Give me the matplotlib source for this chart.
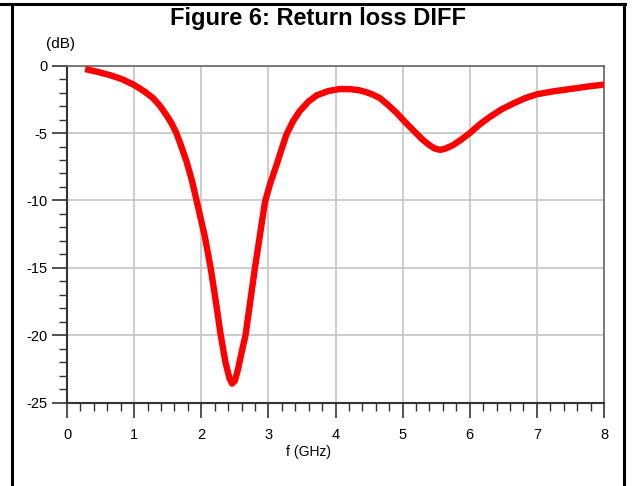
import matplotlib
matplotlib.use("Agg")
import matplotlib.pyplot as plt
from matplotlib.lines import Line2D
import numpy as np

freq_ghz = [0.27, 0.45, 0.64, 0.82, 1.0, 1.15, 1.28, 1.38, 1.48, 1.56, 1.63, 1.70, 1.78,
            1.86, 1.93, 2.05, 2.14, 2.22, 2.29, 2.36, 2.42, 2.46, 2.50, 2.55, 2.60, 2.66,
            2.73, 2.80, 2.88, 2.95, 3.03, 3.12, 3.20, 3.27, 3.37, 3.47, 3.60, 3.72, 3.88,
            4.06, 4.22, 4.35, 4.46, 4.56, 4.66, 4.78, 4.91, 5.05, 5.2, 5.3, 5.4, 5.48, 5.56,
            5.64, 5.75, 5.87, 6.0, 6.15, 6.3, 6.47, 6.65, 6.82, 7.0, 7.25, 7.5, 7.75, 8.0]
return_loss_db = [-0.25, -0.45, -0.7, -1.0, -1.43, -1.9, -2.4, -2.95, -3.65, -4.3, -5.0,
                  -5.95, -7.1, -8.5, -10.0, -12.6, -15.0, -17.6, -20.0, -22.0, -23.2, -23.6,
                  -23.4, -22.5, -21.3, -20.0, -17.5, -15.0, -12.4, -10.1, -8.7, -7.4, -6.15,
                  -5.1, -4.1, -3.35, -2.65, -2.2, -1.9, -1.73, -1.74, -1.82, -1.97, -2.15,
                  -2.4, -2.9, -3.5, -4.25, -5.0, -5.5, -5.9, -6.15, -6.25, -6.15, -5.9, -5.5,
                  -5.0, -4.35, -3.8, -3.25, -2.8, -2.42, -2.12, -1.9, -1.73, -1.55, -1.4]
x_ticks = [0, 1, 2, 3, 4, 5, 6, 7, 8]
y_ticks = [0, -5, -10, -15, -20, -25]

plt.rcParams['font.family'] = ['Liberation Sans', 'DejaVu Sans']

W, H = 632, 486
fig = plt.figure(figsize=(W / 100, H / 100), dpi=100)
ax = fig.add_axes([67 / W, 1 - 402.5 / H, (604 - 67) / W, (402.5 - 65.7) / H])

ax.plot(freq_ghz, return_loss_db, color='#ff0000', lw=4.6, solid_capstyle='butt',
        solid_joinstyle='round', zorder=3)

ax.set_xlim(0, 8)
ax.set_ylim(-25, 0)
ax.set_xticks(x_ticks)
ax.set_yticks(y_ticks)
ax.set_xticklabels([str(t) for t in x_ticks], fontsize=10.5)
ax.set_yticklabels([str(t) for t in y_ticks], fontsize=10.5)
ax.set_xticks(np.arange(0, 8.01, 0.2), minor=True)
ax.set_yticks(np.arange(-25, 0.01, 1), minor=True)
ax.tick_params(which='major', direction='out', length=11, width=1.2, color='#333333')
ax.tick_params(which='minor', direction='out', length=6, width=1.0, color='#333333')
ax.tick_params(axis='x', which='major', pad=7)
ax.tick_params(axis='y', which='major', pad=3)
ax.grid(True, which='major', color='#c8c8c8', lw=1.3)
ax.set_axisbelow(True)
for s in ['left', 'bottom']:
    ax.spines[s].set_color('#333333')
    ax.spines[s].set_linewidth(1.5)
for s in ['top', 'right']:
    ax.spines[s].set_color('#666666')
    ax.spines[s].set_linewidth(1.2)

fig.text(309 / W, 1 - 452 / H, 'f (GHz)', ha='center', va='center', fontsize=10)
fig.text(60 / W, 1 - 44 / H, '(dB)', ha='center', va='center', fontsize=11)
fig.text(318 / W, 1 - 19 / H, 'Figure 6: Return loss DIFF', ha='center', va='center',
         fontsize=17, fontweight='bold')

# outer frame (open at bottom)
lw = 2.2
fig.add_artist(Line2D([0, 625 / W], [1 - 4 / H, 1 - 4 / H], color='black', lw=lw, transform=fig.transFigure))
fig.add_artist(Line2D([12 / W, 12 / W], [0, 1 - 4 / H], color='black', lw=lw, transform=fig.transFigure))
fig.add_artist(Line2D([624 / W, 624 / W], [0, 1 - 4 / H], color='black', lw=lw, transform=fig.transFigure))

fig.savefig('out.png', dpi=100)
